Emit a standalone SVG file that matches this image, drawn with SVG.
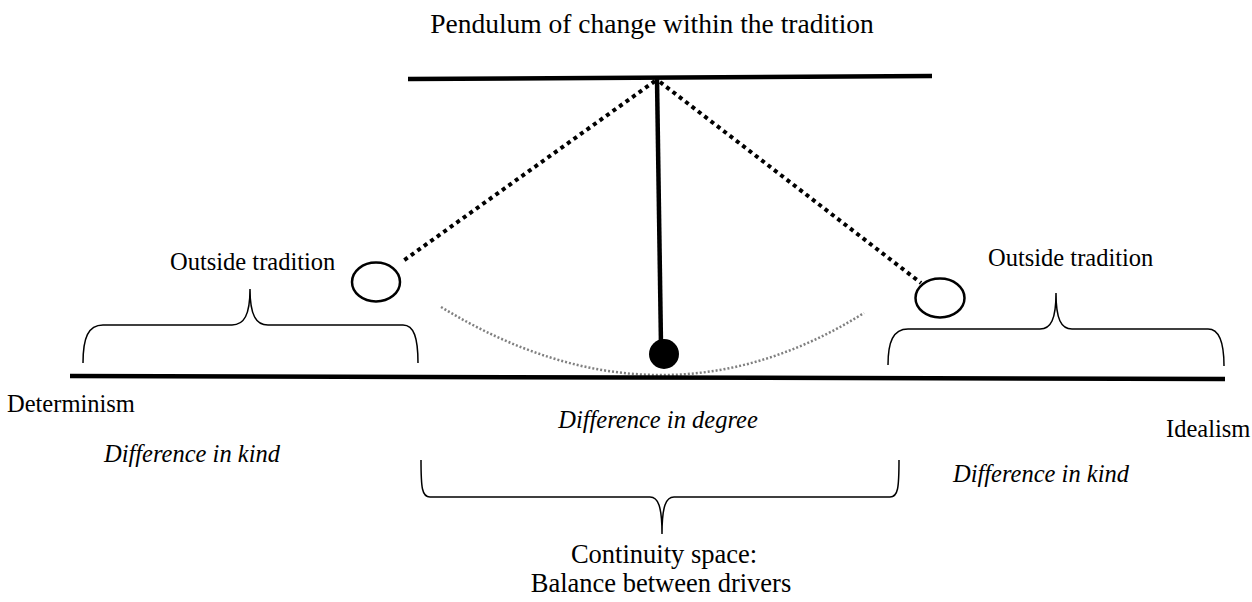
<svg xmlns="http://www.w3.org/2000/svg" width="1252" height="602" viewBox="0 0 1252 602">
<style>
.t{font-family:"Liberation Serif","Times New Roman",serif;font-size:24.5px;fill:#000}
.big{font-size:26.5px}
.title{font-size:27.5px}
.i{font-style:italic}
.m{text-anchor:middle}
.thick{stroke:#000;stroke-width:4.5;fill:none;stroke-linecap:butt}
.brace{stroke:#000;stroke-width:1.5;fill:none}
.dots{stroke:#000;stroke-width:4;fill:none;stroke-dasharray:4 4}
.gdots{stroke:#808080;stroke-width:2.5;fill:none;stroke-dasharray:2 2}
.ring{stroke:#000;stroke-width:2.5;fill:#fff}
</style>
<rect width="1252" height="602" fill="#fff"/>
<g id="title"><text class="t title m" x="652" y="33">Pendulum of change within the tradition</text></g>
<g id="connectors">
<line class="thick" x1="408" y1="79" x2="932" y2="76"/>
<line class="thick" x1="657" y1="79" x2="661" y2="345"/>
<line class="dots" x1="655" y1="81" x2="403" y2="261"/>
<line class="dots" x1="660" y1="82" x2="921" y2="283"/>
<path class="gdots" d="M441,307 Q660,440 864,313"/>
<line class="thick" x1="70" y1="376" x2="1225" y2="379"/>
</g>
<g id="left-ball"><ellipse class="ring" cx="376" cy="282" rx="24" ry="19.5"/></g>
<g id="right-ball"><ellipse class="ring" cx="940" cy="298" rx="24.5" ry="19.5"/></g>
<g id="bob"><circle cx="664" cy="354" r="15" fill="#000"/></g>
<g id="left-brace">
<path class="brace" d="M83,363 C83,338 88,325 103,325 L232,325 C244,325 250,315 250,289 C250,315 256,325 268,325 L403,325 C414,325 418,338 418,363"/>
<text class="t" x="170" y="270">Outside tradition</text>
</g>
<g id="right-brace">
<path class="brace" d="M888,365 C888,342 893,329 908,329 L1040,329 C1051,329 1056,319 1056,293 C1056,319 1061,329 1072,329 L1208,329 C1219,329 1224,342 1224,366"/>
<text class="t" x="988" y="266">Outside tradition</text>
</g>
<g id="bottom-brace">
<path class="brace" d="M421,460 C421,488 422,497 430,497 L650,497 C658,497 662,506 662,534 C662,506 666,497 674,497 L890,497 C898,497 899,488 899,460"/>
<text class="t big m" x="664" y="563">Continuity space:</text>
<text class="t big m" x="661" y="592">Balance between drivers</text>
</g>
<g id="labels">
<text class="t" x="7" y="412">Determinism</text>
<text class="t" x="1166" y="437">Idealism</text>
<text class="t i m" x="658" y="428">Difference in degree</text>
<text class="t i" x="104" y="462">Difference in kind</text>
<text class="t i" x="953" y="482">Difference in kind</text>
</g>
</svg>
